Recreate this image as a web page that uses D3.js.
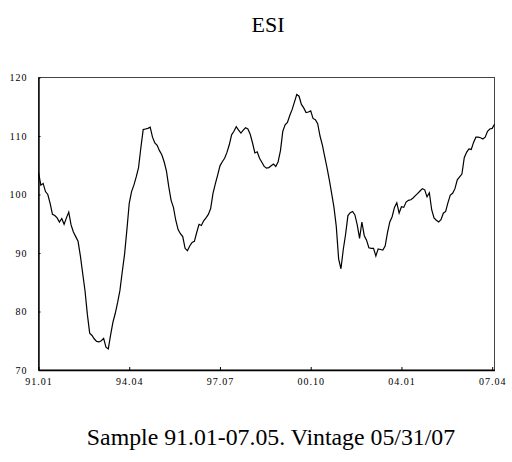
<!DOCTYPE html>
<html>
<head>
<meta charset="utf-8">
<script src="https://cdn.jsdelivr.net/npm/d3@7"></script>
<style>
  body { margin: 0; background: #fff; }
  text { font-family: "Liberation Serif", "Times New Roman", serif; }
</style>
</head>
<body>
<div id="chart"></div>
<script>
var margin = ({top: 77.5, right: 17.5, bottom: 92, left: 38.5});
var w = 512;
var h = 462;

var title = "ESI";
var note = "Sample 91.01-07.05. Vintage 05/31/07";

// monthly, 91.01 .. 07.05
var esi = [103.8, 101.6, 101.9, 100.5, 100.0, 98.5, 96.6, 96.4, 96.0, 95.3, 95.9, 94.9,
    96.0, 97.0, 94.8, 93.6, 92.8, 92.0, 89.5, 86.5, 83.5, 79.5, 76.3, 75.9,
    75.3, 74.9, 74.8, 75.0, 75.4, 73.9, 73.6, 76.0, 78.2, 79.7, 81.5, 83.6,
    86.8, 89.8, 94.0, 98.5, 100.5, 101.6, 103.0, 104.6, 108.0, 111.1, 111.2, 111.3,
    111.5, 109.8, 108.8, 108.4, 107.5, 106.8, 105.6, 104.0, 101.3, 99.0, 97.8, 95.6,
    94.0, 93.3, 92.8, 90.8, 90.4, 91.2, 91.8, 92.0, 93.5, 94.9, 94.7, 95.5,
    96.0, 96.6, 97.6, 100.2, 101.8, 103.3, 104.9, 105.6, 106.2, 107.2, 108.5, 110.2,
    110.8, 111.6, 111.0, 110.5, 111.0, 111.4, 111.2, 110.3, 108.8, 107.1, 107.3, 106.2,
    105.5, 104.8, 104.5, 104.6, 104.9, 105.2, 104.8, 105.6, 107.5, 110.8, 111.9, 112.3,
    113.5, 114.5, 115.8, 117.1, 116.8, 115.4, 114.8, 114.0, 114.1, 114.3, 113.0, 112.8,
    112.1, 110.0, 108.5, 106.5, 104.6, 102.5, 100.2, 97.8, 94.5, 89.0, 87.3, 90.6,
    93.2, 96.4, 96.9, 97.1, 96.5, 94.8, 92.5, 95.3, 93.0, 92.2, 90.9, 90.8,
    90.8, 89.5, 90.7, 90.6, 90.5, 91.2, 93.5, 95.3, 96.2, 97.8, 98.6, 96.8,
    97.9, 97.8, 98.7, 99.0, 99.1, 99.4, 99.8, 100.2, 100.6, 101.0, 100.8, 99.6,
    100.3, 97.4, 96.0, 95.6, 95.3, 95.7, 96.8, 97.1, 98.6, 99.9, 100.2, 101.0,
    102.5, 103.0, 103.5, 106.3, 107.2, 107.8, 107.7, 108.9, 109.8, 109.8, 109.7, 109.5,
    109.8, 110.8, 111.2, 111.3, 112.0];

var xTicks = [0, 39, 78, 117, 156, 195];
var xTickLabels = ["91.01", "94.04", "97.07", "00.10", "04.01", "07.04"];
var yTicks = [70, 80, 90, 100, 110, 120];

var xScale = d3.scaleLinear()
    .domain([0, esi.length - 1])
    .range([margin.left, w - margin.right]);

var yScale = d3.scaleLinear()
    .domain([70, 120])
    .range([h - margin.bottom, margin.top]);

var svg = d3.select("#chart")
    .append("svg")
    .attr("width", w)
    .attr("height", h);

// frame, top and right
svg.append("rect")
    .attr("x", margin.left)
    .attr("y", margin.top)
    .attr("width", w - margin.right - margin.left)
    .attr("height", h - margin.bottom - margin.top)
    .attr("fill", "none")
    .attr("stroke", "#444")
    .attr("stroke-width", 1);

var line = d3.line()
    .x(function(d, i) { return xScale(i); })
    .y(function(d) { return yScale(d); });

svg.append("path")
    .datum(esi)
    .attr("fill", "none")
    .attr("stroke", "#000")
    .attr("stroke-width", 1.2)
    .attr("d", line);

var xAxis = svg.append("g")
    .attr("transform", "translate(0," + (h - margin.bottom) + ")")
    .call(d3.axisBottom(xScale)
        .tickValues(xTicks)
        .tickSize(-3)
        .tickSizeOuter(0)
        .tickPadding(8)
        .tickFormat(function(d, i) { return xTickLabels[i]; }));

var yAxis = svg.append("g")
    .attr("transform", "translate(" + margin.left + ",0)")
    .call(d3.axisLeft(yScale)
        .tickValues(yTicks)
        .tickSize(-2)
        .tickSizeOuter(0)
        .tickPadding(11));

svg.selectAll(".domain").attr("stroke", "#000").attr("stroke-width", 1.4);
svg.selectAll(".tick line").attr("stroke", "#000");
svg.selectAll(".tick text")
    .attr("font-family", "Liberation Serif, serif")
    .attr("font-size", 10)
    .attr("letter-spacing", 1)
    .attr("fill", "#000");

svg.append("text")
    .attr("x", 268)
    .attr("y", 32)
    .attr("text-anchor", "middle")
    .attr("font-size", 22)
    .text(title);

svg.append("text")
    .attr("x", 271)
    .attr("y", 445)
    .attr("text-anchor", "middle")
    .attr("font-size", 23.8)
    .text(note);
</script>
</body>
</html>
